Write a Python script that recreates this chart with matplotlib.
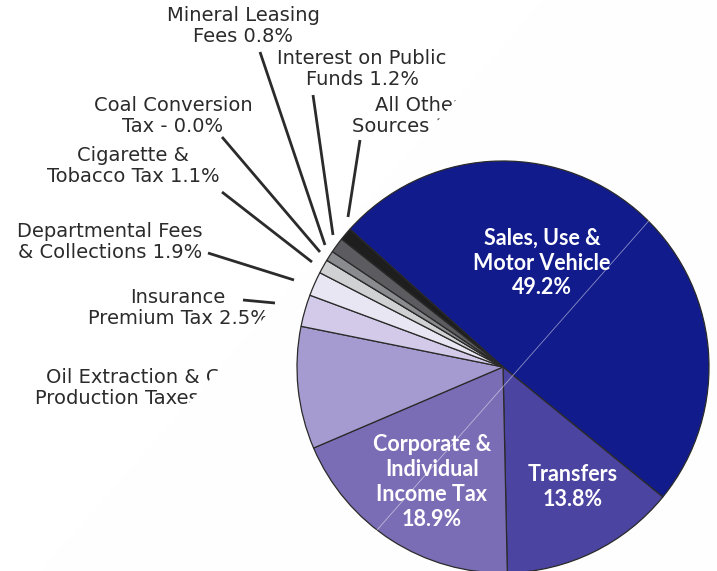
import matplotlib.pyplot as plt
from matplotlib.patches import Polygon

# revenue shares (%), clockwise starting from the upper left
categories = ["Sales, Use &\nMotor Vehicle", "Transfers", "Corporate &\nIndividual\nIncome Tax",
              "Oil Extraction & Gas\nProduction Taxes", "Insurance\nPremium Tax",
              "Departmental Fees\n& Collections", "Cigarette &\nTobacco Tax",
              "Coal Conversion\nTax -", "Mineral Leasing\nFees", "Interest on Public\nFunds",
              "All Other\nSources"]
shares = [49.2, 13.8, 18.9, 9.6, 2.5, 1.9, 1.1, 0.0, 0.8, 1.2, 1.0]
colors = ["#111b8c", "#4b44a0", "#7b6db5", "#a69bd0", "#d2cae8", "#e9e6f3",
          "#d0d1d3", "#b0b1b4", "#8a8b8f", "#5c5c60", "#1e1e1e"]

W, H = 717, 571


def P(x, y):
    # picture coords (y down) -> axes coords (y up)
    return (x, H - y)


fig = plt.figure(figsize=(W / 100, H / 100), dpi=100)
ax = fig.add_axes([0, 0, 1, 1])

ax.pie(shares, colors=colors, startangle=138, counterclock=False,
       center=P(503, 367), radius=206,
       wedgeprops=dict(edgecolor="#2a2a2a", linewidth=0.9, zorder=5))

# labels outside the pie: (index, label centre, leader start, leader end)
outer = [
    (8, (243, 26), (260, 52), (325, 245)),
    (9, (362, 69), (313, 95), (333, 235)),
    (10, (418, 116), (360, 140), (348, 217)),
    (7, (173, 116), (222, 137), (320, 252)),
    (6, (133, 166), (222, 192), (312, 262)),
    (5, (110, 242), (208, 253), (294, 280)),
    (4, (178, 308), (243, 300), (275, 303)),
    (3, (145, 388), None, None),
]
for i, pos, a, b in outer:
    txt = "%s %.1f%%" % (categories[i], shares[i])
    ax.text(*P(*pos), txt, ha="center", va="center", fontsize=14,
            family="DejaVu Sans", color="#2b2b2b", linespacing=1.1, zorder=1)
    if a is not None:
        ax.plot(*zip(P(*a), P(*b)), color="#2b2b2b", lw=2, zorder=1,
                solid_capstyle="butt")

# labels inside the pie
inner = [(0, (542, 263)), (1, (573, 487)), (2, (432, 482))]
for i, pos in inner:
    txt = "%s\n%.1f%%" % (categories[i], shares[i])
    ax.text(*P(*pos), txt, ha="center", va="center", fontsize=15.5,
            family=["Lato", "DejaVu Sans"], fontweight="bold",
            color="white", linespacing=1.22, zorder=7)

# white panel that hides the label ends on the right
ax.add_patch(Polygon([P(41, 571), P(544, 0), P(717, 0), P(717, 571)],
                     closed=True, facecolor="#fefefe", edgecolor="none", zorder=2))
# faint seam across the pie
ax.plot(*zip(P(668, 199), P(370, 538)), color="white", lw=0.6, alpha=0.5, zorder=6)

ax.set_xlim(0, W)
ax.set_ylim(0, H)
ax.set_aspect("equal")
ax.axis("off")

fig.savefig("out.png", dpi=100)
